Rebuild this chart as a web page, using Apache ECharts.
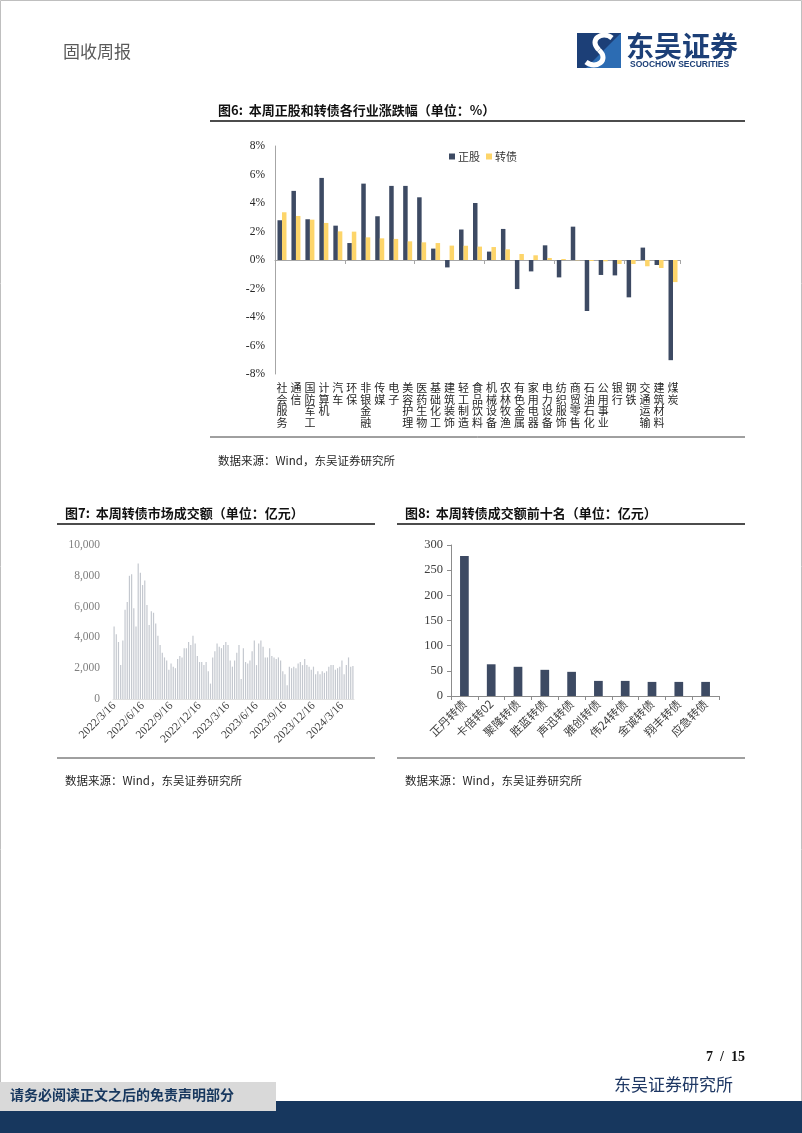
<!DOCTYPE html>
<html><head><meta charset="utf-8">
<script src="https://cdn.jsdelivr.net/npm/echarts@6/dist/echarts.min.js"></script>
<style>html,body{margin:0;padding:0;background:#fff}#c{width:802px;height:1133px}</style>
</head><body><div id="c"></div>
<script>
// ---- Figure 6 data ----
const industries = ['社会服务','通信','国防军工','计算机','汽车','环保','非银金融','传媒','电子','美容护理','医药生物','基础化工','建筑装饰','轻工制造','食品饮料','机械设备','农林牧渔','有色金属','家用电器','电力设备','纺织服饰','商贸零售','石油石化','公用事业','银行','钢铁','交通运输','建筑材料','煤炭'];
const stockChg = [2.79,4.85,2.86,5.76,2.41,1.19,5.36,3.07,5.20,5.20,4.40,0.80,-0.52,2.14,4.00,0.59,2.18,-2.04,-0.80,1.03,-1.22,2.34,-3.58,-1.05,-1.08,-2.62,0.87,-0.35,-7.03];
const cbChg = [3.35,3.09,2.83,2.60,2.01,1.99,1.59,1.52,1.48,1.31,1.24,1.19,1.01,1.00,0.94,0.91,0.75,0.42,0.33,0.14,0.07,-0.02,-0.07,-0.09,-0.28,-0.28,-0.44,-0.56,-1.55];
const pctTicks = {min:-8, max:8, interval:2};

// ---- Figure 7 data ----
const volTickLabels = ['2022/3/16','2022/6/16','2022/9/16','2022/12/16','2023/3/16','2023/6/16','2023/9/16','2023/12/16','2024/3/16'];
const weeklyVolume = [4700,4200,3700,2200,3800,5800,6300,8000,8100,5900,4700,8800,8200,7400,7700,6100,4800,5700,5600,4900,4100,3500,3000,2700,2500,1900,2300,2100,2000,2600,
2800,2700,3300,3300,3700,3500,4100,3600,2800,2400,2400,2200,2400,1800,1000,2700,3100,3600,3400,3300,3500,3700,3500,2500,2100,2500,3000,3500,1300,3300,
2400,2300,2500,3100,3800,2200,3600,3800,3400,2700,2700,3300,2800,2700,2600,2700,2500,1800,1600,900,2100,2000,2100,2000,2300,2400,2200,2600,2200,2100,
1900,2100,1600,1800,1600,1800,1700,1800,2100,2200,2200,1900,2000,2100,2500,1600,2200,2700,2100,2150];
const volAxis = {min:0, max:10000, interval:2000};

// ---- Figure 8 data ----
const top10Names = ['正丹转债','卡倍转02','聚隆转债','胜蓝转债','声迅转债','雅创转债','伟24转债','金诚转债','翔丰转债','应急转债'];
const top10Volume = [278,63,58,52,48,30,30,28,28,28];
const top10Axis = {min:0, max:300, interval:50};

const SERIF = "'Liberation Serif','Times New Roman','Noto Sans CJK SC',serif";
const CJK = "'Noto Sans CJK SC','Noto Sans CJK',sans-serif";
const volCategories = weeklyVolume.map((v,i) => (i % 13 === 0 && volTickLabels[i/13]) ? volTickLabels[i/13] : ('w' + i));

function txt(x, y, text, font, fill, align) {
  return {type:'text', x:x, y:y, z:20, style:{text:text, font:font, fill:fill||'#222',
    textAlign:align||'left', textVerticalAlign:'middle', align:align||'left', verticalAlign:'middle'}};
}
function hline(x1, x2, y, w, c) {
  return {type:'line', z:10, shape:{x1:x1,y1:y,x2:x2,y2:y}, style:{stroke:c||'#000', lineWidth:w||1}};
}

const chart = echarts.init(document.getElementById('c'), null, {renderer:'canvas'});
chart.setOption({
  animation:false,
  backgroundColor:'#fff',
  legend:{data:['正股','转债'], left:444, top:146, itemWidth:6, itemHeight:6, itemGap:6, icon:'rect',
    textStyle:{fontFamily:CJK, fontSize:11, color:'#333', padding:[0,0,0,-2]}},
  grid:[
    {left:275, top:146, width:405, height:228},
    {left:113, top:545, width:241, height:154},
    {left:451, top:545, width:268, height:151}
  ],
  xAxis:[
    {type:'category', gridIndex:0, data:industries, position:'top',
      axisLine:{onZero:true, lineStyle:{color:'#a6a6a6', width:1}},
      axisTick:{show:true, inside:true, length:4, lineStyle:{color:'#a6a6a6'}},
      axisLabel:{show:false}, splitLine:{show:false}},
    {type:'category', gridIndex:0, data:industries, position:'bottom',
      axisLine:{show:false, onZero:false}, axisTick:{show:false}, splitLine:{show:false},
      axisLabel:{interval:0, margin:8, fontFamily:CJK, fontSize:11, lineHeight:11.7, color:'#262626', verticalAlign:'top',
        formatter:v => v.split('').join('\n')}},
    {type:'category', gridIndex:1, data:volCategories,
      axisLine:{show:true, lineStyle:{color:'#e0e0e0'}}, axisTick:{show:false},
      axisLabel:{interval:12, rotate:45, margin:5, fontFamily:SERIF, fontSize:11.5, color:'#404040',
        formatter:v => v.charAt(0)==='w' ? '' : v}},
    {type:'category', gridIndex:2, data:top10Names,
      axisLine:{show:true, lineStyle:{color:'#8c8c8c'}},
      axisTick:{show:true, length:4, lineStyle:{color:'#8c8c8c'}},
      axisLabel:{interval:0, rotate:45, margin:6, fontFamily:CJK, fontSize:11.5, color:'#404040'}}
  ],
  yAxis:[
    {type:'value', gridIndex:0, min:pctTicks.min, max:pctTicks.max, interval:pctTicks.interval,
      axisLine:{show:true, lineStyle:{color:'#a6a6a6'}}, axisTick:{show:false}, splitLine:{show:false},
      axisLabel:{margin:10, fontFamily:SERIF, fontSize:11.5, color:'#262626', formatter:'{value}%'}},
    {type:'value', gridIndex:1, min:volAxis.min, max:volAxis.max, interval:volAxis.interval,
      axisLine:{show:false}, axisTick:{show:false}, splitLine:{show:false},
      axisLabel:{margin:13, fontFamily:SERIF, fontSize:11.5, color:'#7f7f7f',
        formatter:v => v.toLocaleString('en-US')}},
    {type:'value', gridIndex:2, min:top10Axis.min, max:top10Axis.max, interval:top10Axis.interval,
      axisLine:{show:true, lineStyle:{color:'#8c8c8c'}}, axisTick:{show:true, length:4, lineStyle:{color:'#8c8c8c'}},
      splitLine:{show:false},
      axisLabel:{margin:8, fontFamily:SERIF, fontSize:12.5, color:'#404040'}}
  ],
  series:[
    {name:'正股', type:'bar', xAxisIndex:0, yAxisIndex:0, data:stockChg, barWidth:4.5, barGap:'0%',
      itemStyle:{color:'#3d4a63'}},
    {name:'转债', type:'bar', xAxisIndex:0, yAxisIndex:0, data:cbChg, barWidth:4.5, barGap:'0%',
      itemStyle:{color:'#fdd56a'}},
    {name:'成交额', type:'bar', xAxisIndex:2, yAxisIndex:1, data:weeklyVolume, barWidth:1.2,
      itemStyle:{color:'#c4c8cf'}},
    {name:'前十名', type:'bar', xAxisIndex:3, yAxisIndex:2, data:top10Volume, barWidth:8.7,
      itemStyle:{color:'#3d4a63'}}
  ],
  graphic:[
    // page border
    {type:'rect', z:1, shape:{x:0.5,y:0.5,width:801,height:1132}, style:{fill:'none', stroke:'#bfbfbf', lineWidth:1}},
    // header
    txt(63, 52, '固收周报', "17px " + CJK, '#595959'),
    {type:'rect', z:10, shape:{x:577,y:33,width:44,height:35}, style:{fill:'#1c3f77'}},
    {type:'polygon', z:11, shape:{points:[[621,33],[621,68],[586,68]]}, style:{fill:'#2c6cb3'}},
    {type:'bezierCurve', z:12, shape:{x1:612,y1:38,cpx1:602,cpy1:30,cpx2:588,cpy2:40,x2:599,y2:50}, style:{stroke:'#fff', lineWidth:5, fill:'none'}},
    {type:'bezierCurve', z:12, shape:{x1:599,y1:50,cpx1:610,cpy1:60,cpx2:596,cpy2:70,x2:586,y2:62}, style:{stroke:'#fff', lineWidth:5, fill:'none'}},
    txt(626, 46, '东吴证券', "bold 28px " + CJK, '#1c3f77'),
    txt(630, 65, 'SOOCHOW SECURITIES', "bold 8.5px 'Liberation Sans',Arial,sans-serif", '#1c3f77'),
    // fig 6
    txt(218, 110, '图6:  本周正股和转债各行业涨跌幅（单位：%）', "bold 13px " + CJK, '#111'),
    hline(210, 745, 121, 1.6, '#111'),
    hline(210, 745, 437, 1, '#404040'),
    txt(218, 461, '数据来源：Wind，东吴证券研究所', "11.5px " + CJK, '#262626'),
    // fig 7
    txt(65, 513, '图7:  本周转债市场成交额（单位：亿元）', "bold 13px " + CJK, '#111'),
    hline(57, 375, 524, 1.6, '#111'),
    hline(57, 375, 758, 1, '#404040'),
    txt(65, 781, '数据来源：Wind，东吴证券研究所', "11.5px " + CJK, '#262626'),
    // fig 8
    txt(405, 513, '图8:  本周转债成交额前十名（单位：亿元）', "bold 13px " + CJK, '#111'),
    hline(397, 745, 524, 1.6, '#111'),
    hline(397, 745, 758, 1, '#404040'),
    txt(405, 781, '数据来源：Wind，东吴证券研究所', "11.5px " + CJK, '#262626'),
    // footer
    txt(745, 1057, '7  /  15', "bold 14px " + SERIF, '#111', 'right'),
    txt(733, 1085, '东吴证券研究所', "17px " + CJK, '#1f3864', 'right'),
    {type:'rect', z:10, shape:{x:0,y:1101,width:802,height:32}, style:{fill:'#17375e'}},
    {type:'rect', z:11, shape:{x:0,y:1082,width:276,height:29}, style:{fill:'#d9d9d9'}},
    txt(10, 1095, '请务必阅读正文之后的免责声明部分', "bold 14px " + CJK, '#17375e')
  ]
});
</script></body></html>
